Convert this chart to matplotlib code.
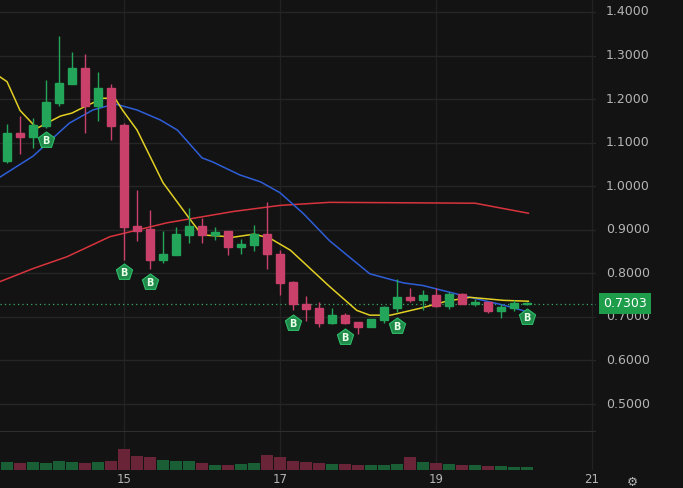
import matplotlib
matplotlib.use("Agg")
import matplotlib.pyplot as plt
from matplotlib.patches import Rectangle

# candle index 0..40 (4h candles); index 9 = day 15
opens  = [1.058,1.122,1.113,1.138,1.191,1.235,1.271,1.184,1.226,1.141,0.909,0.902,0.831,0.842,0.888,0.909,0.888,0.897,0.860,0.865,0.890,
          0.844,0.780,0.730,0.720,0.686,0.705,0.688,0.677,0.693,0.720,0.746,0.739,0.750,0.725,0.753,0.730,0.734,0.714,0.721,0.729]
closes = [1.122,1.113,1.141,1.193,1.237,1.271,1.184,1.226,1.138,0.906,0.897,0.831,0.844,0.890,0.909,0.888,0.895,0.860,0.867,0.890,0.844,
          0.778,0.730,0.718,0.686,0.705,0.686,0.677,0.695,0.723,0.746,0.739,0.750,0.725,0.753,0.730,0.734,0.714,0.723,0.732,0.730]
highs  = [1.143,1.161,1.157,1.244,1.345,1.308,1.304,1.262,1.235,1.145,0.991,0.945,0.897,0.906,0.950,0.927,0.906,0.897,0.879,0.911,0.964,
          0.854,0.782,0.748,0.734,0.720,0.709,0.688,0.695,0.725,0.787,0.766,0.762,0.766,0.757,0.755,0.741,0.734,0.730,0.739,0.734]
lows   = [1.053,1.074,1.088,1.134,1.184,1.235,1.122,1.150,1.106,0.831,0.874,0.810,0.824,0.842,0.870,0.870,0.877,0.842,0.844,0.851,0.810,
          0.750,0.716,0.691,0.677,0.684,0.684,0.661,0.677,0.686,0.711,0.734,0.716,0.723,0.718,0.730,0.725,0.709,0.698,0.714,0.727]
volumes = [9,8,9,8,10,9,8,9,10,24,16,15,12,11,10,8,6,6,7,8,17,
           15,10,9,8,7,7,6,6,6,7,15,9,8,7,6,6,5,5,4,3]

# moving averages: (candle index, price)
ma_fast_x = [-0.54,0,1.0,2.3,4.1,5.0,6.2,7.4,8.3,8.9,10.0,12.0,14.1,15.0,16.2,17.4,19.0,20.2,21.8,24.8,26.9,27.9,29.5,31.8,33.8,35.6,38.2,40.1]
ma_fast_y = [1.251,1.240,1.174,1.133,1.161,1.168,1.186,1.202,1.202,1.174,1.129,1.008,0.923,0.888,0.886,0.883,0.890,0.881,0.853,0.770,0.715,0.704,0.704,0.720,0.736,0.745,0.738,0.736]
ma_mid_x = [-0.54,2.0,4.8,6.6,8.3,10.0,11.8,13.1,15.0,15.8,17.9,19.5,21.0,22.8,24.8,27.9,30.5,32.0,35.6,38.2,40.1]
ma_mid_y = [1.021,1.069,1.145,1.175,1.189,1.175,1.152,1.129,1.065,1.056,1.026,1.010,0.985,0.937,0.875,0.799,0.778,0.772,0.745,0.727,0.711]
ma_slow_x = [-0.54,2.0,4.6,7.9,12.3,17.4,21.0,24.8,36.0,40.1]
ma_slow_y = [0.781,0.811,0.838,0.884,0.916,0.942,0.956,0.963,0.961,0.938]

buy_idx = [3,9,11,22,26,30,40]
buy_y = [1.106,0.803,0.780,0.686,0.654,0.679,0.700]

price_ticks = [0.5,0.6,0.7,0.8,0.9,1.0,1.1,1.2,1.3,1.4]
day_ticks = [15,17,19,21]
last_price = 0.7303

BG = "#131313"
GREEN = "#23a55a"
RED = "#c9416a"
W, H = 683, 488
fig = plt.figure(figsize=(W/100, H/100), dpi=100, facecolor=BG)

def day_to_idx(d):
    return 9 + (d - 15) * 6

xl = (-0.54, day_to_idx(21) + 0.3)
ax = fig.add_axes([0, (H-432)/H, 596/W, 432/H], facecolor=BG)
axv = fig.add_axes([0, (H-470)/H, 596/W, 38/H], facecolor=BG)
for a in (ax, axv):
    a.set_xlim(*xl)
    for s in a.spines.values():
        s.set_visible(False)
    a.tick_params(length=0)
ax.set_ylim(0.4358, 1.4275)
for p in price_ticks:
    ax.axhline(p, color="#262626", lw=1, zorder=0)
for d in day_ticks:
    ax.axvline(day_to_idx(d), color="#222222", lw=1, zorder=0)
    axv.axvline(day_to_idx(d), color="#222222", lw=1, zorder=0)
ax.axhline(0.4358, color="#2e2e2e", lw=1.5)

bw = 0.62
for i, (o, c, h, l) in enumerate(zip(opens, closes, highs, lows)):
    col = GREEN if c >= o else RED
    ax.vlines(i, l, h, color=col, lw=1, zorder=3)
    ax.add_patch(Rectangle((i - bw/2, min(o, c)), bw, max(abs(c - o), 0.003), color=col, zorder=3))

ax.plot(ma_slow_x, ma_slow_y, color="#d8343d", lw=1.1, zorder=2)
ax.plot(ma_mid_x, ma_mid_y, color="#2e5ed8", lw=1.1, zorder=2)
ax.plot(ma_fast_x, ma_fast_y, color="#e2cf24", lw=1.1, zorder=2)

ax.axhline(last_price, color="#3aa862", lw=0.9, ls=(0, (1, 2.5)), zorder=1)

for i, y in zip(buy_idx, buy_y):
    ax.scatter(i, y, marker="p", s=150, color="#1f8a4a", edgecolor="#2fbf6a", lw=0.8, zorder=5)
    ax.text(i, y - 0.002, "B", color="#e8ffe8", fontsize=7, ha="center", va="center", zorder=6, fontweight="bold")

ax.set_xticks([])
ax.set_yticks([])
for p in price_ticks:
    ax.text(1.017, p, f"{p:.4f}", transform=ax.get_yaxis_transform(), color="#b4b4b4",
            fontsize=9, va="center", ha="left")
ax.text(1.012, last_price, f"{last_price:.4f}", transform=ax.get_yaxis_transform(), color="white",
        fontsize=9, va="center", ha="left",
        bbox=dict(boxstyle="square,pad=0.3", fc="#1e9e4a", ec="none"))

for i, v in enumerate(volumes):
    col = "#1a5e36" if closes[i] >= opens[i] else "#6a2438"
    axv.bar(i, v, width=0.9, color=col)
axv.set_ylim(0, 44)
axv.set_yticks([])
axv.set_xticks([day_to_idx(d) for d in day_ticks])
axv.set_xticklabels([str(d) for d in day_ticks], color="#b4b4b4", fontsize=8.5)
axv.tick_params(pad=2)

fig.text(632/W, 1 - 482/H, "⚙", color="#b4b4b4", fontsize=9, ha="center", va="center")

fig.savefig("out.png", dpi=100, facecolor=BG)
